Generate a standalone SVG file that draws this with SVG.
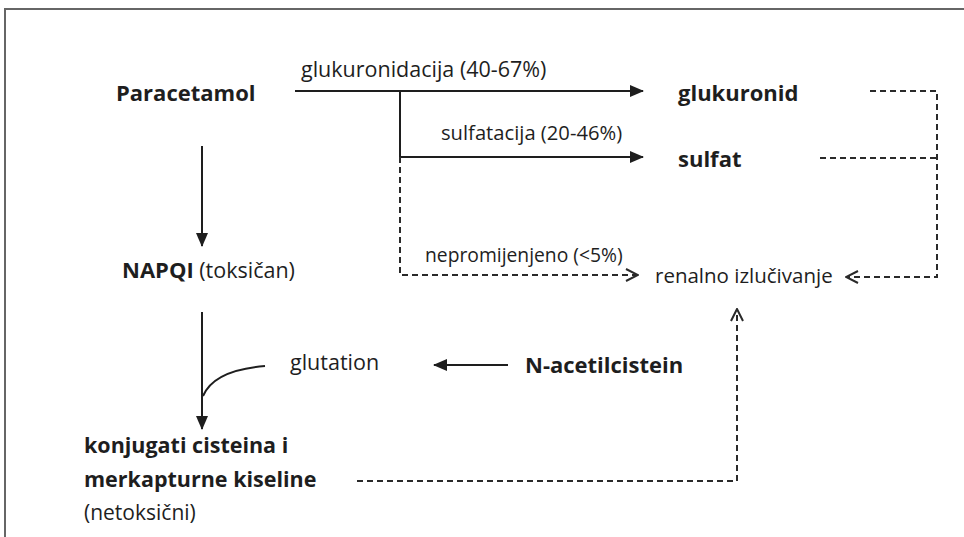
<svg xmlns="http://www.w3.org/2000/svg" width="964" height="537" viewBox="0 0 964 537">
<defs>
<style>
.t{font-family:"Open Sans","Noto Sans",sans-serif;fill:#1e1e1e}
.b{font-weight:bold}
.s{stroke:#1e1e1e;stroke-width:2;fill:none}
.d{stroke:#2a2a2a;stroke-width:2;fill:none;stroke-dasharray:6 4}
</style>
<marker id="ah" viewBox="0 0 14 12" refX="13" refY="6" markerWidth="14" markerHeight="12" markerUnits="userSpaceOnUse" orient="auto">
<path d="M0,0 L14,6 L0,12 z" fill="#1e1e1e"/>
</marker>
<marker id="oh" viewBox="0 0 14 14" refX="13" refY="7" markerWidth="14" markerHeight="14" markerUnits="userSpaceOnUse" orient="auto">
<path d="M1,1 L13,7 L1,13" fill="none" stroke="#2a2a2a" stroke-width="2"/>
</marker>
</defs>
<rect width="964" height="537" fill="#fff"/>
<path d="M5,537 V9 H964" fill="none" stroke="#666" stroke-width="2"/>
<g id="connectors">
<path class="s" d="M295,91 H643" marker-end="url(#ah)"/>
<path class="s" d="M400,91 V157 H643" marker-end="url(#ah)"/>
<path class="d" d="M400,157 V275 H638" marker-end="url(#oh)"/>
<path class="d" d="M870,91 H937 V277 H846" marker-end="url(#oh)"/>
<path class="d" d="M820,158 H937"/>
<path class="s" d="M202,146 V246" marker-end="url(#ah)"/>
<path class="s" d="M202,312 V429" marker-end="url(#ah)"/>
<path class="s" d="M265,366 Q214,370 203,396"/>
<path class="s" d="M508,365 H434" marker-end="url(#ah)"/>
<path class="d" d="M357,481 H737 V309" marker-end="url(#oh)"/>
</g>
<g id="paracetamol"><text class="t b" x="116" y="101" font-size="22">Paracetamol</text></g>
<g id="lbl-glukuronidacija"><text class="t" x="301" y="77" font-size="21.5">glukuronidacija (40-67%)</text></g>
<g id="glukuronid"><text class="t b" x="678" y="101" font-size="22">glukuronid</text></g>
<g id="lbl-sulfatacija"><text class="t" x="441" y="140" font-size="20.2">sulfatacija (20-46%)</text></g>
<g id="sulfat"><text class="t b" x="678" y="167" font-size="22">sulfat</text></g>
<g id="lbl-nepromijenjeno"><text class="t" x="425" y="262" font-size="19.3">nepromijenjeno (&lt;5%)</text></g>
<g id="renalno"><text class="t" x="655" y="283" font-size="20.5">renalno izlučivanje</text></g>
<g id="napqi"><text class="t" x="122" y="278" font-size="21.5"><tspan class="b" font-size="22">NAPQI</tspan> (toksičan)</text></g>
<g id="glutation"><text class="t" x="290" y="370" font-size="21.5">glutation</text></g>
<g id="nac"><text class="t b" x="525" y="373" font-size="22">N-acetilcistein</text></g>
<g id="konjugati"><text class="t" x="84" y="453" font-size="21"><tspan class="b" font-size="21.5">konjugati cisteina i</tspan><tspan class="b" font-size="21.5" x="84" y="487">merkapturne kiseline</tspan><tspan x="84" y="520">(netoksični)</tspan></text></g>
</svg>
